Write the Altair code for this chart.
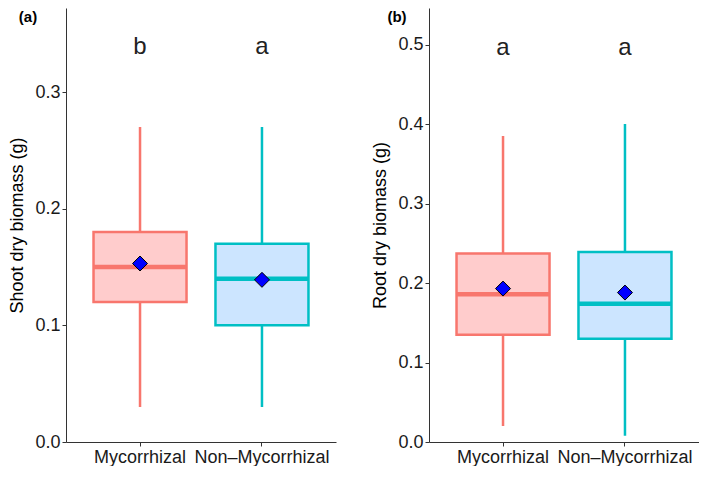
import altair as alt
import pandas as pd

groups = ["Mycorrhizal", "Non\u2013Mycorrhizal"]
stroke_colors = ["#F8766D", "#00BFC4"]
fill_colors = ["#FFCCCC", "#CCE5FF"]

# Panel (a): shoot dry biomass
shoot_wlow = [0.03, 0.03]
shoot_q1 = [0.12, 0.10]
shoot_med = [0.15, 0.14]
shoot_q3 = [0.18, 0.17]
shoot_whigh = [0.27, 0.27]
shoot_mean = [0.153, 0.139]
shoot_letters = ["b", "a"]
shoot_letter_y = [0.339, 0.339]
shoot_ticks = [0.0, 0.1, 0.2, 0.3]

# Panel (b): root dry biomass
root_wlow = [0.02, 0.008]
root_q1 = [0.135, 0.13]
root_med = [0.186, 0.174]
root_q3 = [0.237, 0.239]
root_whigh = [0.385, 0.40]
root_mean = [0.193, 0.188]
root_letters = ["a", "a"]
root_letter_y = [0.496, 0.496]
root_ticks = [0.0, 0.1, 0.2, 0.3, 0.4, 0.5]

FONT = "Liberation Sans"
W, H = 270, 434
BOXW = 93


def make_df(wlow, q1, med, q3, whigh, mean, letters, ly):
    return pd.DataFrame({
        "group": groups, "wlow": wlow, "q1": q1, "med": med, "q3": q3,
        "whigh": whigh, "mean": mean, "letter": letters, "ly": ly,
    })


def panel(df, ytitle, ydomain, yticks, tag, tagx):
    base = alt.Chart(df)
    xenc = alt.X("group:N", sort=groups,
                 scale=alt.Scale(paddingInner=0, paddingOuter=0.107),
                 axis=alt.Axis(title=None, labelAngle=0))
    yscale = alt.Scale(domain=ydomain, nice=False, zero=True)
    yaxis = alt.Axis(title=ytitle, values=yticks, format=".1f")
    cscale = alt.Scale(domain=groups, range=stroke_colors)
    fscale = alt.Scale(domain=groups, range=fill_colors)

    whisk = base.mark_rule(strokeWidth=2.5).encode(
        x=xenc,
        y=alt.Y("wlow:Q", scale=yscale, axis=yaxis),
        y2="whigh:Q",
        color=alt.Color("group:N", scale=cscale, legend=None),
    )
    box = base.mark_bar(size=BOXW, strokeWidth=2.5, opacity=1).encode(
        x=xenc,
        y=alt.Y("q1:Q"),
        y2="q3:Q",
        fill=alt.Fill("group:N", scale=fscale, legend=None),
        stroke=alt.Stroke("group:N", scale=cscale, legend=None),
    )
    med = base.mark_tick(size=BOXW, thickness=4.5, opacity=1).encode(
        x=xenc,
        y=alt.Y("med:Q"),
        color=alt.Color("group:N", scale=cscale, legend=None),
    )
    mean = base.mark_point(shape="diamond", size=225, filled=True,
                           color="#0000FF", stroke="black", strokeWidth=1,
                           opacity=1).encode(
        x=xenc,
        y=alt.Y("mean:Q"),
    )
    letters = base.mark_text(fontSize=24, font=FONT, color="#222222",
                             baseline="middle").encode(
        x=xenc,
        y=alt.Y("ly:Q"),
        text="letter:N",
    )
    tagtxt = alt.Chart(pd.DataFrame({"t": [tag]})).mark_text(
        fontSize=15, fontWeight="bold", font=FONT, color="black",
        baseline="top", align="center"
    ).encode(text="t:N", x=alt.value(tagx), y=alt.value(2))

    return alt.layer(whisk, box, med, mean, letters, tagtxt).properties(
        width=W, height=H
    )


df_a = make_df(shoot_wlow, shoot_q1, shoot_med, shoot_q3, shoot_whigh,
               shoot_mean, shoot_letters, shoot_letter_y)
df_b = make_df(root_wlow, root_q1, root_med, root_q3, root_whigh,
               root_mean, root_letters, root_letter_y)

pa = panel(df_a, "Shoot dry biomass (g)", [0, 0.372], shoot_ticks, "(a)", -38)
pb = panel(df_b, "Root dry biomass (g)", [0, 0.546], root_ticks, "(b)", -32)

chart = alt.hconcat(pa, pb, spacing=35).resolve_scale(
    y="independent"
).properties(
    padding={"left": 0, "top": 0, "right": 0, "bottom": 0}
).configure_view(
    stroke=None
).configure_axis(
    grid=False,
    domainColor="#333333",
    domainWidth=1,
    tickColor="#333333",
    tickSize=4,
    tickWidth=1,
    labelFont=FONT,
    labelFontSize=18,
    labelColor="#1a1a1a",
    labelPadding=2,
    titleFont=FONT,
    titleFontSize=18,
    titleFontWeight="normal",
    titleColor="black",
    titlePadding=8,
)

chart.save("out.html", embed_options={"renderer": "svg", "actions": False})
